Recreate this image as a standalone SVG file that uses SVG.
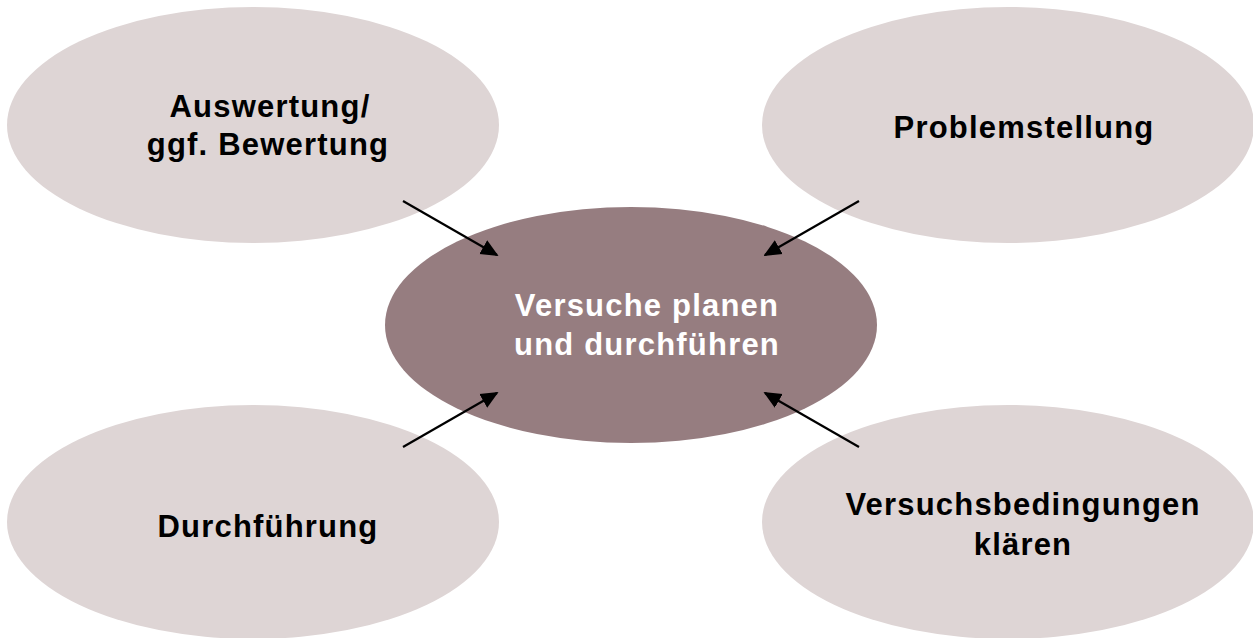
<svg xmlns="http://www.w3.org/2000/svg" width="1253" height="638" viewBox="0 0 1253 638">
  <style>
    .outer { fill: #ded5d5; }
    .center { fill: #967d80; }
    .lbl { font-family: "Liberation Sans", Arial, sans-serif; font-weight: bold; font-size: 31px; letter-spacing: 1.2px; text-anchor: middle; fill: #000; }
    .lblw { fill: #ffffff; }
    .conn { stroke: #000; stroke-width: 2.2; fill: none; marker-end: url(#arr); }
  </style>
  <defs>
    <marker id="arr" viewBox="0 0 10 10" refX="9" refY="5" markerWidth="8" markerHeight="8" markerUnits="strokeWidth" orient="auto">
      <path d="M0,0.5 L10,5 L0,9.5 Z" fill="#000"/>
    </marker>
  </defs>
  <rect width="1253" height="638" fill="#ffffff"/>
  <g id="node-auswertung">
    <ellipse class="outer" cx="253" cy="125" rx="246" ry="118"/>
    <text class="lbl" x="270" y="117">Auswertung/</text>
    <text class="lbl" x="268" y="155">ggf. Bewertung</text>
  </g>
  <g id="node-problemstellung">
    <ellipse class="outer" cx="1008" cy="125" rx="246" ry="118"/>
    <text class="lbl" x="1024" y="138">Problemstellung</text>
  </g>
  <g id="node-durchfuehrung">
    <ellipse class="outer" cx="253" cy="522" rx="246" ry="117"/>
    <text class="lbl" x="268" y="537">Durchführung</text>
  </g>
  <g id="node-versuchsbedingungen">
    <ellipse class="outer" cx="1008" cy="522" rx="246" ry="117"/>
    <text class="lbl" x="1023" y="515">Versuchsbedingungen</text>
    <text class="lbl" x="1023" y="555">klären</text>
  </g>
  <g id="node-center">
    <ellipse class="center" cx="631" cy="325" rx="246" ry="118"/>
    <text class="lbl lblw" x="647" y="316">Versuche planen</text>
    <text class="lbl lblw" x="647" y="355">und durchführen</text>
  </g>
  <g id="connectors">
    <line class="conn" x1="403" y1="201" x2="497" y2="255"/>
    <line class="conn" x1="859" y1="201" x2="765" y2="255"/>
    <line class="conn" x1="403" y1="447" x2="497" y2="393"/>
    <line class="conn" x1="859" y1="447" x2="765" y2="393"/>
  </g>
</svg>
